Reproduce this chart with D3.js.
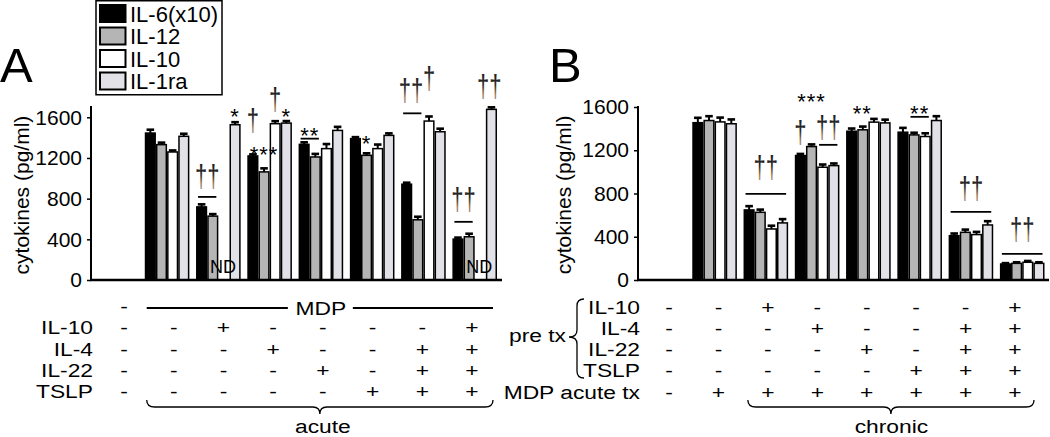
<!DOCTYPE html>
<html lang="en">
<head>
<meta charset="UTF-8">
<title>cytokines</title>
<script src="https://cdn.jsdelivr.net/npm/d3@7"></script>
<style>
  body { margin: 0; background: #fff; }
  svg { display: block; font-family: "Liberation Sans", Arial, sans-serif; }
</style>
</head>
<body>
<svg id="chart" width="1050" height="437"></svg>
<script>
// ---- data ----
const seriesNames = ["IL-6(x10)", "IL-12", "IL-10", "IL-1ra"];
const seriesColors = ["#000000", "#b5b5b5", "#ffffff", "#e1e1e7"];
const yTicks = [0, 400, 800, 1200, 1600];
const conditions = ["c1", "c2", "c3", "c4", "c5", "c6", "c7", "c8"];

// panel A (acute), null = not measured / ND
const il6A   = [null, 1445, 719, 1220, 1334, 1390, 942, 402];
const il12A  = [null, 1331, 628, 1063, 1210, 1226, 592, 425];
const il10A  = [null, 1259, null, 1537, 1292, 1292, 1563, null];
const il1raA = [null, 1413, 1527, 1543, 1471, 1422, 1458, 1678];
const il6ErrA   = [0, 33, 25, 15, 20, 15, 15, 15];
const il12ErrA  = [0, 20, 20, 35, 30, 20, 30, 30];
const il10ErrA  = [0, 15, 0, 25, 45, 40, 45, 0];
const il1raErrA = [0, 25, 25, 20, 35, 20, 30, 20];

// panel B (chronic)
const il6B   = [null, 1455, 648, 1151, 1376, 1367, 410, 148];
const il12B  = [null, 1475, 626, 1234, 1389, 1342, 441, 154];
const il10B  = [null, 1462, 472, 1043, 1460, 1327, 420, 164];
const il1raB = [null, 1445, 528, 1058, 1453, 1475, 509, 154];
const il6ErrB   = [0, 45, 35, 15, 25, 40, 20, 8];
const il12ErrB  = [0, 40, 25, 20, 30, 20, 25, 10];
const il10ErrB  = [0, 40, 30, 25, 30, 30, 25, 12];
const il1raErrB = [0, 40, 35, 20, 30, 40, 35, 10];

// significance marks: [group, fromBar, toBar, mark, level, lineLevel]
const annoA = [
  [2, 0, 1, "††", 1001, 817],
  [2, 3, 3, "*", 1660, null],
  [3, 0, 0, "†", 1550, null],
  [3, 0, 2, "***", 1285, null],
  [3, 2, 2, "†", 1752, null],
  [3, 3, 3, "*", 1658, null],
  [4, 0, 1, "**", 1472, 1390],
  [5, 1, 1, "*", 1393, null],
  [6, -0.25, 1, "††", 1850, 1639],
  [6, 2, 2, "†", 1960, null],
  [7, 0, 1, "††", 775, 572],
  [7, 2.6, 3, "††", 1880, null]
];
const annoB = [
  [2, 0, 3, "††", 1019, 796],
  [3, 0, 2, "***", 1700, null],
  [3, 0, 0, "†", 1345, null],
  [3, 2, 3, "††", 1395, 1250],
  [4, 0.4, 1.5, "**", 1590, null],
  [5, 1, 2, "**", 1590, 1509],
  [6, 0, 3, "††", 829, 630],
  [7, 0, 3, "††", 454, 241]
];

// treatment tables
const tableRowsA = ["IL-10", "IL-4", "IL-22", "TSLP"];
const tableA = [
  ["-", "-", "+", "-", "-", "-", "-", "+"],
  ["-", "-", "-", "+", "-", "-", "+", "+"],
  ["-", "-", "-", "-", "+", "-", "+", "+"],
  ["-", "-", "-", "-", "-", "+", "+", "+"]
];
const tableRowsB = ["IL-10", "IL-4", "IL-22", "TSLP", "MDP acute tx"];
const tableB = [
  ["-", "-", "+", "-", "-", "-", "-", "+"],
  ["-", "-", "-", "+", "-", "-", "+", "+"],
  ["-", "-", "-", "-", "+", "-", "+", "+"],
  ["-", "-", "-", "-", "-", "+", "+", "+"],
  ["-", "+", "+", "+", "+", "+", "+", "+"]
];

// ---- drawing ----
const svg = d3.select("#chart");

// dagger gradient: dark crossbar, orange stem fading to blue
const grad = svg.append("defs").append("linearGradient")
  .attr("id", "dag").attr("x1", 0).attr("y1", 0).attr("x2", 0).attr("y2", 1);
grad.append("stop").attr("offset", "0%").attr("stop-color", "#1e1e1e");
grad.append("stop").attr("offset", "45%").attr("stop-color", "#2a2a2a");
grad.append("stop").attr("offset", "72%").attr("stop-color", "#a87a48");
grad.append("stop").attr("offset", "100%").attr("stop-color", "#7f93cc");

function stretchText(g, x, y, str, anchor) {
  g.append("text")
    .attr("transform", `translate(${x},${y}) scale(1.2,1)`)
    .attr("text-anchor", anchor || "middle")
    .attr("font-size", 19)
    .text(str);
}

function brace(g, x0, x1, yTop) {
  const m = (x0 + x1) / 2;
  const y1 = yTop + 7;
  g.append("path")
    .attr("d", `M${x0},${yTop} Q${x0},${y1} ${x0 + 8},${y1} L${m - 7},${y1} Q${m},${y1} ${m},${yTop + 14}` +
               ` Q${m},${y1} ${m + 7},${y1} L${x1 - 8},${y1} Q${x1},${y1} ${x1},${yTop}`)
    .attr("fill", "none").attr("stroke", "#000").attr("stroke-width", 1.3);
}

function drawPanel(cfg) {
  const { x, y, vals, errs, yMax, axisX0, axisX1, anno, label, labelX, letterX, letterText } = cfg;
  const g = svg.append("g");
  const inner = d3.scaleBand().domain(d3.range(4)).range([0, x.bandwidth()]);
  const bw = inner.bandwidth();

  const flat = [];
  vals.forEach((series, s) => series.forEach((v, i) => {
    flat.push({ s, i, v, e: errs[s][i] });
  }));
  const bars = flat.filter(d => d.v != null);

  g.selectAll("rect.bar").data(bars).enter().append("rect")
    .attr("class", "bar")
    .attr("x", d => x(conditions[d.i]) + inner(d.s) + 0.75)
    .attr("y", d => y(d.v))
    .attr("width", bw - 1.5)
    .attr("height", d => y(0) - y(d.v))
    .attr("fill", d => seriesColors[d.s])
    .attr("stroke", "#000").attr("stroke-width", 1.5);

  const cx = d => x(conditions[d.i]) + inner(d.s) + bw / 2;
  g.selectAll("line.stem").data(bars).enter().append("line")
    .attr("x1", cx).attr("x2", cx)
    .attr("y1", d => y(d.v)).attr("y2", d => y(d.v + d.e))
    .attr("stroke", "#000").attr("stroke-width", 2);
  g.selectAll("line.cap").data(bars).enter().append("line")
    .attr("x1", d => cx(d) - bw * 0.34).attr("x2", d => cx(d) + bw * 0.34)
    .attr("y1", d => y(d.v + d.e)).attr("y2", d => y(d.v + d.e))
    .attr("stroke", "#000").attr("stroke-width", 2.6);

  // ND labels where a value is missing inside a treated group
  flat.filter(d => d.v == null && d.i > 0).forEach(d => {
    g.append("text")
      .attr("x", x(conditions[d.i]) + inner(d.s) + bw / 2 - 1)
      .attr("y", y(0) - 7)
      .attr("text-anchor", "middle").attr("font-size", 18)
      .text("ND");
  });

  // axes
  const yAxis = d3.axisLeft(y).tickValues(yTicks).tickSize(4).tickPadding(5).tickFormat(d3.format("d"));
  const ay = g.append("g").attr("transform", `translate(${axisX0},0)`).call(yAxis);
  ay.select(".domain").remove();
  ay.selectAll(".tick line").attr("stroke-width", 1.5);
  ay.selectAll(".tick text").attr("font-size", 21).attr("font-family", "Liberation Sans, Arial, sans-serif")
    .attr("fill", "#000");
  g.append("line").attr("x1", axisX0).attr("x2", axisX0).attr("y1", y(0)).attr("y2", y(yMax))
    .attr("stroke", "#000").attr("stroke-width", 2);
  g.append("line").attr("x1", axisX0 - 1).attr("x2", axisX1).attr("y1", y(0)).attr("y2", y(0))
    .attr("stroke", "#000").attr("stroke-width", 2.5);

  g.append("text")
    .attr("transform", `translate(${labelX},${(y(0) + y(yMax)) / 2 + 2}) rotate(-90)`)
    .attr("text-anchor", "middle").attr("font-size", 21)
    .text(label);

  g.append("text").attr("x", letterX).attr("y", 82).attr("font-size", 49).text(letterText);

  // significance marks (daggers are tall and narrow in the figure)
  anno.forEach(([gi, b0, b1, mark, level, lineLevel]) => {
    const gx = x(conditions[gi]);
    const mx = gx + (b0 + b1 + 1) / 2 * bw;
    const isDagger = mark.includes("†");
    g.append("text")
      .attr("transform", `translate(${mx},${y(level)}) scale(1,${isDagger ? 1.4 : 1})`)
      .attr("dy", isDagger ? "0.28em" : "0.57em")
      .attr("text-anchor", "middle").attr("font-size", 22)
      .attr("letter-spacing", isDagger ? 0 : 1)
      .attr("fill", isDagger ? "url(#dag)" : "#000")
      .text(mark);
    if (lineLevel != null) {
      g.append("line")
        .attr("x1", gx + Math.max(b0, 0) * bw + 2).attr("x2", gx + (b1 + 1) * bw - 2)
        .attr("y1", y(lineLevel)).attr("y2", y(lineLevel))
        .attr("stroke", "#000").attr("stroke-width", 1.8);
    }
  });
  return g;
}

// panel A
const xA = d3.scaleBand().domain(conditions).range([93.5, 497]).paddingInner(0.13).paddingOuter(0);
const yA = d3.scaleLinear().domain([0, 1600]).range([280, 117.3]);
drawPanel({
  x: xA, y: yA, vals: [il6A, il12A, il10A, il1raA],
  errs: [il6ErrA, il12ErrA, il10ErrA, il1raErrA],
  yMax: 1710, axisX0: 91, axisX1: 502, anno: annoA,
  label: "cytokines (pg/ml)", labelX: 29, letterX: 0, letterText: "A"
});

// panel B
const xB = d3.scaleBand().domain(conditions).range([641, 1044.5]).paddingInner(0.13).paddingOuter(0);
const yB = d3.scaleLinear().domain([0, 1600]).range([280, 107]);
drawPanel({
  x: xB, y: yB, vals: [il6B, il12B, il10B, il1raB],
  errs: [il6ErrB, il12ErrB, il10ErrB, il1raErrB],
  yMax: 1610, axisX0: 638, axisX1: 1049, anno: annoB,
  label: "cytokines (pg/ml)", labelX: 571, letterX: 549, letterText: "B"
});

// legend
const leg = svg.append("g");
leg.append("rect").attr("x", 96).attr("y", 0.75).attr("width", 126).attr("height", 94)
  .attr("fill", "#fff").attr("stroke", "#000").attr("stroke-width", 1.5);
seriesNames.forEach((name, i) => {
  const ry = 5 + i * 22.5;
  leg.append("rect").attr("x", 100).attr("y", ry).attr("width", 25.5).attr("height", 17)
    .attr("fill", seriesColors[i]).attr("stroke", "#000").attr("stroke-width", 2);
  leg.append("text").attr("x", 130).attr("y", ry + 16.5).attr("font-size", 22).text(name);
});

// table A
const colA = d3.scalePoint().domain(conditions).range([124, 472]);
const tA = svg.append("g");
const rowYA = i => 313 + i * 21.3;
stretchText(tA, colA("c1"), rowYA(0), "-");
const mA = (colA("c2") + colA("c8")) / 2;
tA.append("line").attr("x1", colA("c2") - 27).attr("x2", mA - 35).attr("y1", 308).attr("y2", 308)
  .attr("stroke", "#000").attr("stroke-width", 2);
tA.append("line").attr("x1", mA + 30).attr("x2", colA("c8") + 21).attr("y1", 308).attr("y2", 308)
  .attr("stroke", "#000").attr("stroke-width", 2);
stretchText(tA, mA - 2, rowYA(0) + 2, "MDP");
tableRowsA.forEach((r, ri) => {
  stretchText(tA, 93, rowYA(ri + 1), r, "end");
  tableA[ri].forEach((v, ci) => stretchText(tA, colA(conditions[ci]), rowYA(ri + 1), v));
});
brace(tA, colA("c2") - 27, colA("c8") + 21, 400);
stretchText(tA, mA, 433, "acute");

// table B
const colB = d3.scalePoint().domain(conditions).range([669, 1015]);
const tB = svg.append("g");
const rowYB = i => 313.5 + i * 21.3;
tableRowsB.forEach((r, ri) => {
  stretchText(tB, 640, rowYB(ri), r, "end");
  tableB[ri].forEach((v, ci) => stretchText(tB, colB(conditions[ci]), rowYB(ri), v));
});
tB.append("path")
  .attr("d", "M584,299 Q577,299 577,306 L577,330 Q577,337 569,337 Q577,337 577,344 L577,371 Q577,378 584,378")
  .attr("fill", "none").attr("stroke", "#000").attr("stroke-width", 1.3);
stretchText(tB, 566, 342, "pre tx", "end");
brace(tB, colB("c3") - 20, colB("c8") + 19, 400);
stretchText(tB, (colB("c3") + colB("c8")) / 2, 433, "chronic");
</script>
</body>
</html>
